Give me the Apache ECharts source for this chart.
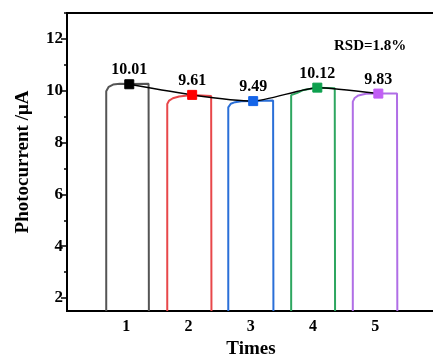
<!DOCTYPE html>
<html>
<head>
<meta charset="utf-8">
<script src="https://cdn.jsdelivr.net/npm/echarts@6/dist/echarts.min.js"></script>
<style>html,body{margin:0;padding:0;background:#fff}#c{width:433px;height:356px}</style>
</head>
<body>
<div id="c"></div>
<script>
// ---- data ----
const times = [1, 2, 3, 4, 5];
const yTicks = [2, 4, 6, 8, 10, 12];
const yMinorTicks = [3, 5, 7, 9, 11, 13];
const peakX = [1.05, 2.06, 3.04, 4.07, 5.05];
const peakY = [10.25, 9.84, 9.60, 10.12, 9.89];
const peakLabels = ['10.01', '9.61', '9.49', '10.12', '9.83'];
const trace1 = [[0.68,1.5],[0.68,9.98],[0.72,10.15],[0.79,10.24],[0.9,10.27],[1.05,10.26],[1.36,10.27],[1.365,1.5]];
const trace2 = [[1.66,1.5],[1.66,9.49],[1.69,9.62],[1.75,9.71],[1.85,9.78],[2.06,9.84],[2.365,9.80],[2.37,1.5]];
const trace3 = [[2.64,1.5],[2.64,9.36],[2.68,9.50],[2.75,9.56],[2.85,9.59],[3.04,9.60],[3.36,9.62],[3.365,1.5]];
const trace4 = [[3.65,1.5],[3.65,9.83],[3.68,9.88],[3.75,9.92],[3.85,10.03],[4.07,10.12],[4.35,10.10],[4.355,1.5]];
const trace5 = [[4.64,1.5],[4.64,9.58],[4.67,9.72],[4.73,9.82],[4.85,9.88],[5.05,9.89],[5.35,9.89],[5.355,1.5]];
const rsdText = 'RSD=1.8%';

const traces = [trace1, trace2, trace3, trace4, trace5];
const traceColors = ['#555555', '#e8474a', '#2a6fd8', '#2ea660', '#b06ee6'];
const markerColors = ['#000000', '#ff0000', '#1565e8', '#0ea04e', '#c25ef5'];
const serif = '"Liberation Serif", "DejaVu Serif", serif';

const chart = echarts.init(document.getElementById('c'), null, {renderer: 'canvas'});
const series = traces.map((t, i) => ({
  type: 'line', data: t, symbol: 'none', smooth: false, clip: true,
  lineStyle: {color: traceColors[i], width: 2}, z: 2, silent: true
}));
series.push({
  type: 'line', smooth: 0.2, z: 5,
  data: peakX.map((x, i) => ({
    value: [x, peakY[i]],
    itemStyle: {color: markerColors[i], borderColor: markerColors[i]},
    label: {formatter: peakLabels[i]}
  })),
  symbol: 'rect', symbolSize: 9,
  lineStyle: {color: '#000', width: 1.5},
  label: {show: true, position: 'top', distance: 1, color: '#000',
    fontFamily: serif, fontWeight: 'bold', fontSize: 16}
});

chart.setOption({
  animation: false,
  backgroundColor: '#fff',
  grid: {left: 67, right: -2, top: 13, bottom: 45, show: true,
    outerBoundsMode: 'none', containLabel: false,
    borderColor: '#000', borderWidth: 2, backgroundColor: 'transparent'},
  xAxis: {
    type: 'value', min: 0.05, max: 5.96,
    name: 'Times', nameLocation: 'middle', nameGap: 27,
    nameTextStyle: {fontFamily: serif, fontWeight: 'bold', fontSize: 19, color: '#000'},
    axisLine: {show: true, lineStyle: {color: '#000', width: 2}},
    axisTick: {show: false},
    splitLine: {show: false},
    axisLabel: {customValues: times, color: '#000', fontFamily: serif,
      fontWeight: 'bold', fontSize: 16, margin: 8}
  },
  yAxis: [{
    type: 'value', min: 1.5, max: 13,
    name: 'Photocurrent /\u03bcA', nameLocation: 'middle', nameGap: 34,
    nameTextStyle: {fontFamily: serif, fontWeight: 'bold', fontSize: 19, color: '#000'},
    axisLine: {show: true, lineStyle: {color: '#000', width: 2}},
    axisTick: {show: true, inside: false, length: 6, customValues: yTicks,
      lineStyle: {color: '#000', width: 1.5}},
    splitLine: {show: false},
    axisLabel: {customValues: yTicks, color: '#000', fontFamily: serif,
      fontWeight: 'bold', fontSize: 17, margin: 4}
  }, {
    type: 'value', min: 1.5, max: 13, position: 'left',
    axisLine: {show: false},
    axisTick: {show: true, inside: false, length: 3, customValues: yMinorTicks,
      lineStyle: {color: '#000', width: 1.5}},
    axisLabel: {show: false},
    splitLine: {show: false}
  }],
  graphic: [{
    type: 'text', left: 334, top: 39,
    style: {text: rsdText, fill: '#000', font: 'bold 15px ' + serif}
  }],
  series: series
});
</script>
</body>
</html>
